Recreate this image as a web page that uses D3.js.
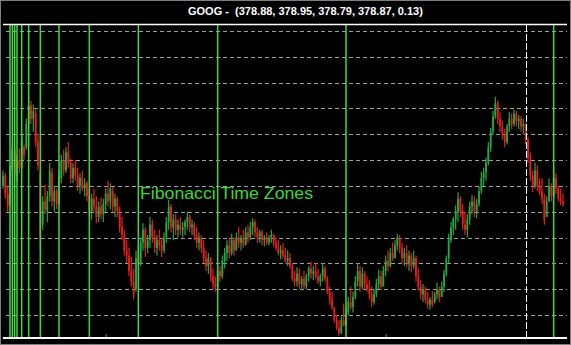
<!DOCTYPE html>
<html>
<head>
<meta charset="utf-8">
<script src="https://cdn.jsdelivr.net/npm/d3@7"></script>
<style>
  body { margin: 0; background: #000; }
  svg { display: block; }
</style>
</head>
<body>
<div id="chart"></div>
<script>
var svgWidth = 571;
var svgHeight = 345;

// OHLC bars (one entry per trading day)
var highs = [
  412,410,400,416,432,430,424,429,440,432,
  452,469,466,463,460,440,412,392,401,396,
  418,414,400,398,412,424,428,430,434,421,
  418,420,414,410,412,406,404,398,394,398,
  392,388,391,390,398,404,402,399,394,392,
  384,376,366,358,352,345,336,350,353,360,
  371,368,362,376,374,366,362,366,360,364,
  376,389,386,378,378,374,376,372,374,380,
  378,374,372,368,364,362,358,350,348,345,
  336,330,340,338,346,352,358,360,363,360,
  364,368,362,366,368,370,372,375,374,368,
  366,366,362,364,362,366,363,360,358,354,
  356,352,350,348,340,334,337,336,330,334,
  332,338,341,338,340,336,332,340,338,330,
  322,318,306,300,296,300,309,306,314,322,
  318,330,340,338,337,334,330,327,322,320,
  328,335,334,338,346,350,352,356,358,363,
  362,356,352,354,350,348,350,346,336,327,
  324,322,318,314,319,318,325,322,326,335,
  346,363,372,376,385,395,392,386,380,378,
  388,393,392,390,400,411,414,422,434,445,
  458,469,466,457,450,444,448,457,456,459,
  458,455,454,452,449,438,426,412,418,416,
  406,406,394,392,406,402,414,410,400,398,394
];
var lows = [
  398,390,380,384,408,404,403,410,412,420,
  428,446,448,442,430,412,350,366,378,372,
  388,384,380,382,386,402,408,410,414,402,
  402,404,396,394,396,392,388,376,374,380,
  371,372,374,372,380,384,382,380,376,376,
  364,358,346,340,330,322,312,318,337,338,
  350,345,348,352,356,348,346,350,345,348,
  356,366,364,358,362,360,362,360,362,366,
  364,362,358,352,350,348,340,334,332,326,
  320,318,320,326,328,336,342,344,346,346,
  350,352,350,352,354,356,358,362,360,356,
  356,354,353,354,354,356,353,350,346,343,
  344,340,338,336,326,322,322,320,319,320,
  320,326,328,327,328,324,322,326,326,316,
  308,304,294,288,284,285,291,292,300,304,
  302,312,322,318,320,320,318,312,306,308,
  314,320,319,322,330,334,337,342,344,350,
  348,340,338,337,334,333,336,326,319,312,
  310,309,305,304,306,309,312,310,314,318,
  330,340,356,362,366,372,376,366,362,360,
  370,378,376,375,384,394,400,404,416,426,
  440,452,448,442,436,430,432,442,444,446,
  446,444,442,440,432,418,404,395,398,396,
  393,386,370,376,388,388,392,394,388,385,384
];
var opens = [
  400,408,394,386,412,428,408,420,414,430,
  430,448,462,452,456,434,410,370,388,380,
  392,410,388,396,388,406,420,412,426,418,
  406,414,408,400,406,398,402,392,380,390,
  384,376,384,378,386,394,388,396,384,390,
  380,368,362,350,346,334,326,320,344,340,
  356,366,352,358,370,360,352,358,354,350,
  360,372,384,368,374,366,370,366,368,372,
  376,368,370,362,356,360,352,344,338,344,
  330,324,322,334,330,342,348,354,348,358,
  350,360,356,360,354,364,360,368,372,364,
  360,364,358,360,356,360,362,356,352,348,
  350,346,342,344,338,328,326,332,324,328,
  322,330,336,332,334,330,326,330,336,328,
  318,312,306,296,290,286,296,292,302,310,
  306,314,326,334,322,332,324,320,316,310,
  316,324,330,322,334,342,338,348,344,354,
  360,352,344,348,340,346,338,344,330,322,
  316,320,312,308,312,310,316,320,314,322,
  332,344,358,368,374,380,390,380,370,366,
  374,384,388,380,386,396,406,410,418,430,
  442,454,464,452,446,440,434,446,452,448,
  456,450,452,446,448,436,422,408,400,412,
  400,396,390,376,388,400,392,406,398,390,388
];
var closes = [
  408,394,384,412,428,410,420,414,436,424,
  448,462,452,458,434,416,360,388,382,392,
  412,388,396,386,408,420,412,426,418,406,
  414,408,400,406,398,402,392,380,390,384,
  376,384,378,386,394,388,398,384,390,380,
  368,362,350,346,334,326,316,344,340,356,
  366,352,358,370,360,352,358,354,350,360,
  372,384,368,374,366,370,366,368,372,376,
  368,370,362,356,360,352,344,338,344,330,
  324,322,334,330,342,348,354,348,358,350,
  360,356,360,354,364,360,368,372,364,360,
  364,358,360,356,360,362,356,352,348,350,
  346,342,344,338,328,326,332,324,328,322,
  330,336,332,334,330,326,330,336,328,318,
  312,306,296,290,286,296,292,302,310,306,
  314,326,334,322,332,324,320,316,310,316,
  324,330,322,334,342,338,348,344,354,360,
  352,344,348,340,346,338,344,330,322,316,
  320,312,308,312,308,316,320,314,322,332,
  344,358,368,374,380,390,380,370,366,374,
  384,388,380,386,396,406,410,418,430,442,
  454,464,452,446,440,434,446,452,448,456,
  450,452,446,448,436,422,408,400,412,400,
  396,390,374,388,400,392,406,398,390,388,386
];

// Fibonacci time zone offsets counted from the start bar
var fibStart = 3;
var fibOffsets = [0, 1, 2, 3, 5, 8, 13, 21, 34, 55, 89, 144, 233];
var gridPrices = [300, 320, 340, 360, 380, 400, 420, 440, 460, 480, 500, 520];
var dateTicks = [44, 164];
var cursorBar = 224;
var titleText = "GOOG -  (378.88, 378.95, 378.79, 378.87, 0.13)";
var labelText = "Fibonacci Time Zones";

var bars = closes.map(function(c, i) {
  return { i: i, open: opens[i], high: highs[i], low: lows[i], close: c };
});

var plot = { left: 3, right: 567, top: 25, bottom: 337 };

var x = d3.scaleLinear().domain([0, 240]).range([3, 563]);
var y = d3.scaleLinear().domain([300, 520]).range([315, 31]);

var svg = d3.select("#chart")
  .append("svg")
  .attr("width", svgWidth)
  .attr("height", svgHeight);

svg.append("rect")
  .attr("width", svgWidth)
  .attr("height", svgHeight)
  .attr("fill", "#000");

// dotted outer frame
svg.append("rect")
  .attr("x", 0.5).attr("y", 0.5)
  .attr("width", svgWidth - 1).attr("height", svgHeight - 1)
  .attr("fill", "none")
  .attr("stroke", "#fff")
  .attr("stroke-dasharray", "1,1");

// title
svg.append("text")
  .attr("x", 188)
  .attr("y", 15)
  .attr("fill", "#fff")
  .style("font-family", "Liberation Sans, Arial, sans-serif")
  .style("font-size", "11px")
  .style("font-weight", "bold")
  .style("white-space", "pre")
  .text(titleText);

// horizontal grid
svg.append("g")
  .selectAll("line")
  .data(gridPrices)
  .enter()
  .append("line")
  .attr("x1", 6).attr("x2", plot.right)
  .attr("y1", d => Math.round(y(d)) + 0.5)
  .attr("y2", d => Math.round(y(d)) + 0.5)
  .attr("stroke", "#a0a0a0")
  .attr("stroke-dasharray", "4,3");

// candles
var candle = svg.append("g").selectAll("g")
  .data(bars)
  .enter()
  .append("g")
  .attr("class", "candle");

var colorOf = d => d.close >= d.open ? "#22a844" : "#e81e1e";

candle.append("line")
  .attr("x1", d => x(d.i)).attr("x2", d => x(d.i))
  .attr("y1", d => y(d.high)).attr("y2", d => y(d.low))
  .attr("stroke", colorOf)
  .attr("stroke-width", 1.2);

candle.append("rect")
  .attr("x", d => x(d.i) - 0.9)
  .attr("width", 1.8)
  .attr("y", d => y(Math.max(d.open, d.close)))
  .attr("height", d => Math.max(1, Math.abs(y(d.open) - y(d.close))))
  .attr("fill", colorOf);

// fibonacci time zone lines
svg.append("g")
  .selectAll("line")
  .data(fibOffsets)
  .enter()
  .append("line")
  .attr("x1", d => x(fibStart + d)).attr("x2", d => x(fibStart + d))
  .attr("y1", plot.top).attr("y2", plot.bottom)
  .attr("stroke", "#3fd83f")
  .attr("stroke-width", 1.5);

// cursor line
svg.append("line")
  .attr("x1", Math.round(x(cursorBar)) + 0.5).attr("x2", Math.round(x(cursorBar)) + 0.5)
  .attr("y1", plot.top).attr("y2", plot.bottom)
  .attr("stroke", "#fff")
  .attr("stroke-dasharray", "7,2");

// frame lines
svg.append("line")
  .attr("x1", plot.left).attr("x2", plot.right)
  .attr("y1", 24.5).attr("y2", 24.5)
  .attr("stroke", "#fff").attr("stroke-width", 1.5);

svg.append("line")
  .attr("x1", plot.left).attr("x2", plot.right)
  .attr("y1", 338).attr("y2", 338)
  .attr("stroke", "#fff").attr("stroke-width", 2);

// small date ticks
var xAxis = d3.axisBottom(x)
  .tickValues(dateTicks)
  .tickSizeInner(-3)
  .tickSizeOuter(0)
  .tickFormat("");

var axisG = svg.append("g")
  .attr("transform", "translate(0, 337)")
  .call(xAxis);
axisG.select(".domain").remove();
axisG.selectAll("line").attr("stroke", "#888");

// label
svg.append("text")
  .attr("x", 140)
  .attr("y", 199)
  .attr("fill", "#3ad83a")
  .attr("textLength", 173)
  .attr("lengthAdjust", "spacingAndGlyphs")
  .style("font-family", "Liberation Sans, Arial, sans-serif")
  .style("font-size", "16.5px")
  .text(labelText);
</script>
</body>
</html>
